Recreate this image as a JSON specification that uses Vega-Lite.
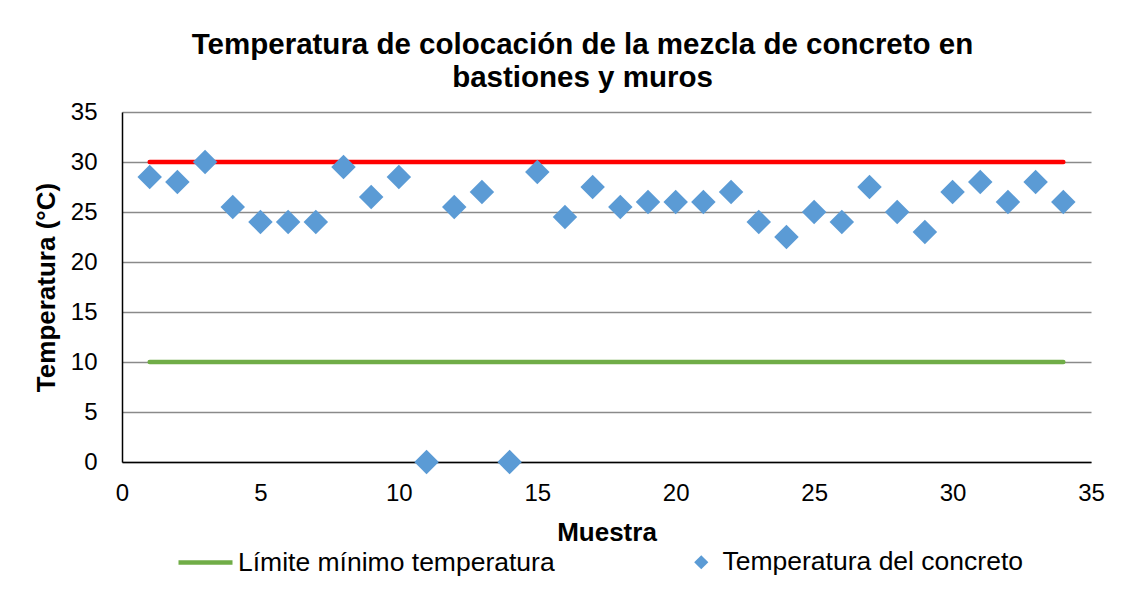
{
  "$schema": "https://vega.github.io/schema/vega-lite/v6.json",
  "autosize": {"type": "none"},
  "width": 969,
  "height": 350,
  "padding": {"left": 122, "top": 112, "right": 44, "bottom": 147},
  "background": "white",
  "config": {
    "font": "Liberation Sans",
    "view": {"stroke": null},
    "axis": {"labelFont": "Liberation Sans", "titleFont": "Liberation Sans", "labelColor": "#000000", "titleColor": "#000000"},
    "legend": {"labelFont": "Liberation Sans", "labelColor": "#000000", "padding": 0, "labelLimit": 0}
  },
  "title": {
    "text": ["Temperatura de colocación de la mezcla de concreto en", "bastiones y muros"],
    "fontSize": 29.5,
    "fontWeight": "bold",
    "lineHeight": 33,
    "color": "#000000",
    "anchor": "middle",
    "frame": "group",
    "dx": -24,
    "offset": 7
  },
  "datasets": {
    "temperaturas": [
      {"Muestra": 1, "Temp": 28.5},
      {"Muestra": 2, "Temp": 28},
      {"Muestra": 3, "Temp": 30},
      {"Muestra": 4, "Temp": 25.5},
      {"Muestra": 5, "Temp": 24},
      {"Muestra": 6, "Temp": 24},
      {"Muestra": 7, "Temp": 24},
      {"Muestra": 8, "Temp": 29.5},
      {"Muestra": 9, "Temp": 26.5},
      {"Muestra": 10, "Temp": 28.5},
      {"Muestra": 11, "Temp": 0},
      {"Muestra": 12, "Temp": 25.5},
      {"Muestra": 13, "Temp": 27},
      {"Muestra": 14, "Temp": 0},
      {"Muestra": 15, "Temp": 29},
      {"Muestra": 16, "Temp": 24.5},
      {"Muestra": 17, "Temp": 27.5},
      {"Muestra": 18, "Temp": 25.5},
      {"Muestra": 19, "Temp": 26},
      {"Muestra": 20, "Temp": 26},
      {"Muestra": 21, "Temp": 26},
      {"Muestra": 22, "Temp": 27},
      {"Muestra": 23, "Temp": 24},
      {"Muestra": 24, "Temp": 22.5},
      {"Muestra": 25, "Temp": 25},
      {"Muestra": 26, "Temp": 24},
      {"Muestra": 27, "Temp": 27.5},
      {"Muestra": 28, "Temp": 25},
      {"Muestra": 29, "Temp": 23},
      {"Muestra": 30, "Temp": 27},
      {"Muestra": 31, "Temp": 28},
      {"Muestra": 32, "Temp": 26},
      {"Muestra": 33, "Temp": 28},
      {"Muestra": 34, "Temp": 26}
    ],
    "limites": [
      {"Muestra": 1, "Temp": 10, "Serie": "Límite mínimo temperatura"},
      {"Muestra": 34, "Temp": 10, "Serie": "Límite mínimo temperatura"},
      {"Muestra": 1, "Temp": 30, "Serie": "Límite máximo temperatura"},
      {"Muestra": 34, "Temp": 30, "Serie": "Límite máximo temperatura"}
    ]
  },
  "encoding": {
    "x": {
      "field": "Muestra",
      "type": "quantitative",
      "scale": {"domain": [0, 35], "nice": false, "zero": false},
      "axis": {
        "title": "Muestra",
        "values": [0, 5, 10, 15, 20, 25, 30, 35],
        "grid": false,
        "ticks": false,
        "labelFlush": false,
        "domainColor": "#000000",
        "domainWidth": 1.5,
        "labelFontSize": 24,
        "labelPadding": 19,
        "titleFontSize": 26,
        "titleFontWeight": "bold",
        "titlePadding": 14
      }
    },
    "y": {
      "field": "Temp",
      "type": "quantitative",
      "scale": {"domain": [0, 35], "nice": false},
      "axis": {
        "title": "Temperatura (°C)",
        "values": [0, 5, 10, 15, 20, 25, 30, 35],
        "grid": true,
        "gridColor": "#8a8a8a",
        "gridWidth": 1.3,
        "gridOpacity": 1,
        "ticks": false,
        "labelFlush": false,
        "domainColor": "#000000",
        "domainWidth": 1.5,
        "labelFontSize": 24,
        "labelPadding": 25,
        "titleFontSize": 26,
        "titleFontWeight": "bold",
        "titlePadding": 11
      }
    }
  },
  "layer": [
    {
      "data": {"name": "limites"},
      "transform": [{"filter": "datum.Serie === 'Límite máximo temperatura'"}],
      "mark": {"type": "line", "color": "#FF0000", "strokeWidth": 4.5, "strokeCap": "round"},
      "encoding": {}
    },
    {
      "data": {"name": "limites"},
      "transform": [{"filter": "datum.Serie === 'Límite mínimo temperatura'"}],
      "mark": {"type": "line", "strokeWidth": 4.5, "strokeCap": "round"},
      "encoding": {
        "color": {
          "field": "Serie",
          "type": "nominal",
          "scale": {"domain": ["Límite mínimo temperatura"], "range": ["#70AD47"]},
          "legend": {
            "title": null,
            "orient": "none",
            "legendX": 54,
            "legendY": 421,
            "symbolType": "stroke",
            "symbolSize": 2916,
            "symbolStrokeWidth": 4.5,
            "labelFontSize": 26.5,
            "labelOffset": 3,
            "labelLimit": 0,
            "padding": 0
          }
        }
      }
    },
    {
      "data": {"name": "temperaturas"},
      "mark": {"type": "point", "shape": "diamond", "filled": true, "color": "#5B9BD5", "size": 600, "opacity": 1},
      "encoding": {
        "shape": {
          "datum": "Temperatura del concreto",
          "type": "nominal",
          "scale": {"domain": ["Temperatura del concreto"], "range": ["diamond"]},
          "legend": {
            "title": null,
            "orient": "none",
            "legendX": 566,
            "legendY": 437,
            "symbolSize": 200,
            "symbolFillColor": "#5B9BD5",
            "symbolStrokeWidth": 0,
            "symbolOpacity": 1,
            "labelFontSize": 26.5,
            "labelOffset": 8,
            "labelLimit": 0,
            "padding": 0
          }
        }
      }
    }
  ]
}
